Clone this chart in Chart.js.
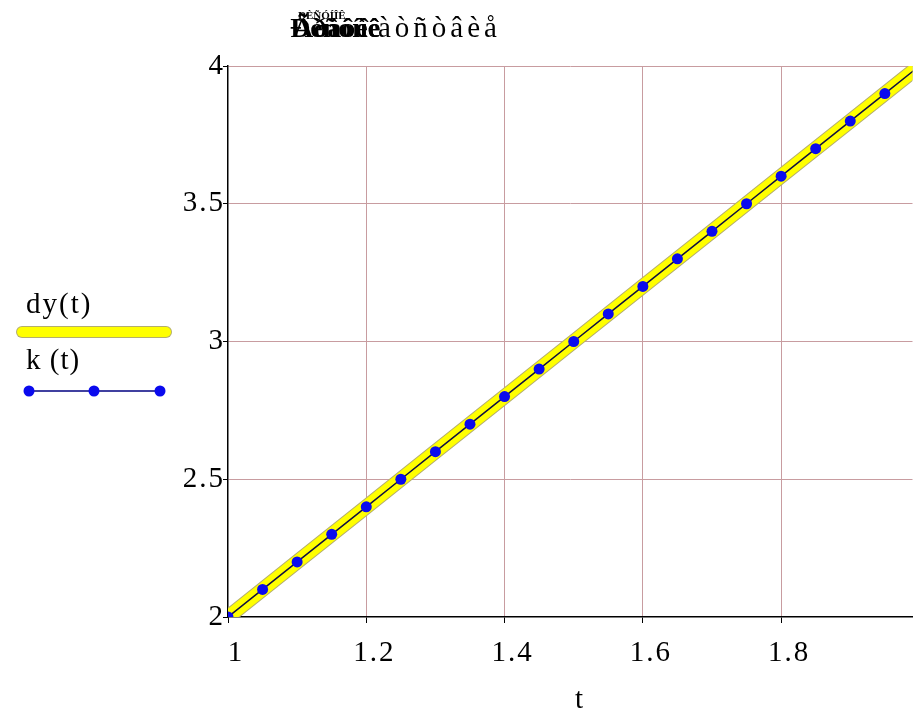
<!DOCTYPE html>
<html>
<head>
<meta charset="utf-8">
<title>dy(t), k(t)</title>
<script src="https://cdn.jsdelivr.net/npm/chart.js@4.4.0/dist/chart.umd.min.js"></script>
<style>
    html, body { margin: 0; padding: 0; background: #fff; overflow: hidden; }
    #wrap { width: 918px; height: 711px; position: relative; }
</style>
</head>
<body>
<div id="wrap"><canvas id="plot"></canvas></div>
<script>
// ----- data -----
const tDy = [1.0, 1.1, 1.2, 1.3, 1.4, 1.5, 1.6, 1.7, 1.8, 1.9, 2.0];
const dyVals = [2.0, 2.2, 2.4, 2.6, 2.8, 3.0, 3.2, 3.4, 3.6, 3.8, 4.0];

const tK = [1.00, 1.05, 1.10, 1.15, 1.20, 1.25, 1.30, 1.35, 1.40, 1.45,
            1.50, 1.55, 1.60, 1.65, 1.70, 1.75, 1.80, 1.85, 1.90, 1.95, 2.00];
const kVals = [2.0, 2.1, 2.2, 2.3, 2.4, 2.5, 2.6, 2.7, 2.8, 2.9,
               3.0, 3.1, 3.2, 3.3, 3.4, 3.5, 3.6, 3.7, 3.8, 3.9, 4.0];

const xTicks = [1, 1.2, 1.4, 1.6, 1.8];
const yTicks = [2, 2.5, 3, 3.5, 4];

const SERIF = "'Liberation Serif', 'Times New Roman', serif";
const GRID = '#c89ca0';
const RIM = '#b4ae6c';
const DOT = '#0a0aee';

const toPoints = (xs, ys) => xs.map((x, i) => ({ x: x, y: ys[i] }));

// slightly wider glyph spacing for every label drawn on the canvas
const spacing = {
    id: 'spacing',
    beforeDraw(chart) { chart.ctx.letterSpacing = '2px'; }
};

// Title (overlapping captions), axis name and the left-hand legend
const decorations = {
    id: 'decorations',
    afterDraw(chart) {
        const ctx = chart.ctx;
        ctx.save();
        ctx.fillStyle = '#000';
        ctx.textBaseline = 'alphabetic';
        ctx.textAlign = 'left';

        // title
        ctx.letterSpacing = '0px';
        ctx.font = 'bold 28px ' + SERIF;
        ctx.fillText('Ðèñóíîê', 290, 37);
        ctx.fillText('Ãðàôèê', 293, 37);
        ctx.font = 'bold 11px ' + SERIF;
        ctx.fillText('ÐÈÑÓÍÎÊ', 298, 19);
        ctx.font = '29px ' + SERIF;
        ctx.letterSpacing = '4px';
        ctx.fillText('àòñòâèå', 378, 37);

        // x axis name
        ctx.letterSpacing = '0px';
        ctx.textAlign = 'center';
        ctx.fillText('t', 579, 708);
        ctx.textAlign = 'left';

        // legend: dy(t)
        ctx.letterSpacing = '2px';
        ctx.fillText('dy(t)', 26, 313);
        ctx.lineCap = 'round';
        ctx.strokeStyle = RIM;
        ctx.lineWidth = 12;
        ctx.beginPath(); ctx.moveTo(22, 332); ctx.lineTo(166, 332); ctx.stroke();
        ctx.strokeStyle = '#ffff00';
        ctx.lineWidth = 10;
        ctx.beginPath(); ctx.moveTo(22, 332); ctx.lineTo(166, 332); ctx.stroke();

        // legend: k(t)
        ctx.letterSpacing = '1px';
        ctx.fillText('k (t)', 26, 369);
        ctx.lineCap = 'butt';
        ctx.strokeStyle = '#000080';
        ctx.lineWidth = 1.5;
        ctx.beginPath(); ctx.moveTo(29, 391); ctx.lineTo(160, 391); ctx.stroke();
        ctx.fillStyle = DOT;
        [29, 94, 160].forEach(x => {
            ctx.beginPath(); ctx.arc(x, 391, 5.5, 0, Math.PI * 2); ctx.fill();
        });
        ctx.restore();
    }
};

new Chart(document.getElementById('plot'), {
    type: 'line',
    data: {
        datasets: [
            {
                label: 'k(t)',
                data: toPoints(tK, kVals),
                borderColor: '#101040',
                borderWidth: 1.5,
                pointRadius: 5.5,
                pointBackgroundColor: DOT,
                pointBorderColor: DOT,
                pointBorderWidth: 0,
                order: 0
            },
            {
                label: 'dy(t)',
                data: toPoints(tDy, dyVals),
                borderColor: '#ffff00',
                borderWidth: 13,
                pointRadius: 0,
                order: 1
            },
            {
                // darker rim around the dy(t) band
                label: 'dy(t) rim',
                data: toPoints(tDy, dyVals),
                borderColor: RIM,
                borderWidth: 15,
                pointRadius: 0,
                order: 2
            }
        ]
    },
    options: {
        responsive: true,
        maintainAspectRatio: false,
        animation: false,
        devicePixelRatio: 1,
        layout: { padding: { left: 180, top: 66, right: 0, bottom: 0 } },
        plugins: {
            legend: { display: false },
            tooltip: { enabled: false },
            title: { display: false }
        },
        scales: {
            x: {
                type: 'linear',
                min: 1,
                max: 1.99,
                afterBuildTicks: s => { s.ticks = xTicks.map(v => ({ value: v })); },
                afterFit: s => { s.height = 94; },
                grid: {
                    color: c => (c.tick && c.tick.value === 1) ? 'rgba(0,0,0,0)' : GRID,
                    lineWidth: 1,
                    tickColor: '#000',
                    tickLength: 6
                },
                border: { color: '#000', width: 1.5 },
                ticks: {
                    color: '#000',
                    font: { family: SERIF, size: 29 },
                    padding: 13,
                    labelOffset: 8,
                    maxRotation: 0,
                    autoSkip: false,
                    callback: v => String(v)
                }
            },
            y: {
                type: 'linear',
                min: 2,
                max: 4,
                afterBuildTicks: s => { s.ticks = yTicks.map(v => ({ value: v })); },
                afterFit: s => { s.width = 48; },
                grid: {
                    color: c => (c.tick && c.tick.value === 2) ? 'rgba(0,0,0,0)' : GRID,
                    lineWidth: 1,
                    tickColor: '#000',
                    tickLength: 5
                },
                border: { color: '#000', width: 1.5 },
                ticks: {
                    color: '#000',
                    font: { family: SERIF, size: 29 },
                    padding: -2,
                    autoSkip: false,
                    callback: v => String(v)
                }
            }
        }
    },
    plugins: [spacing, decorations]
});
</script>
</body>
</html>
